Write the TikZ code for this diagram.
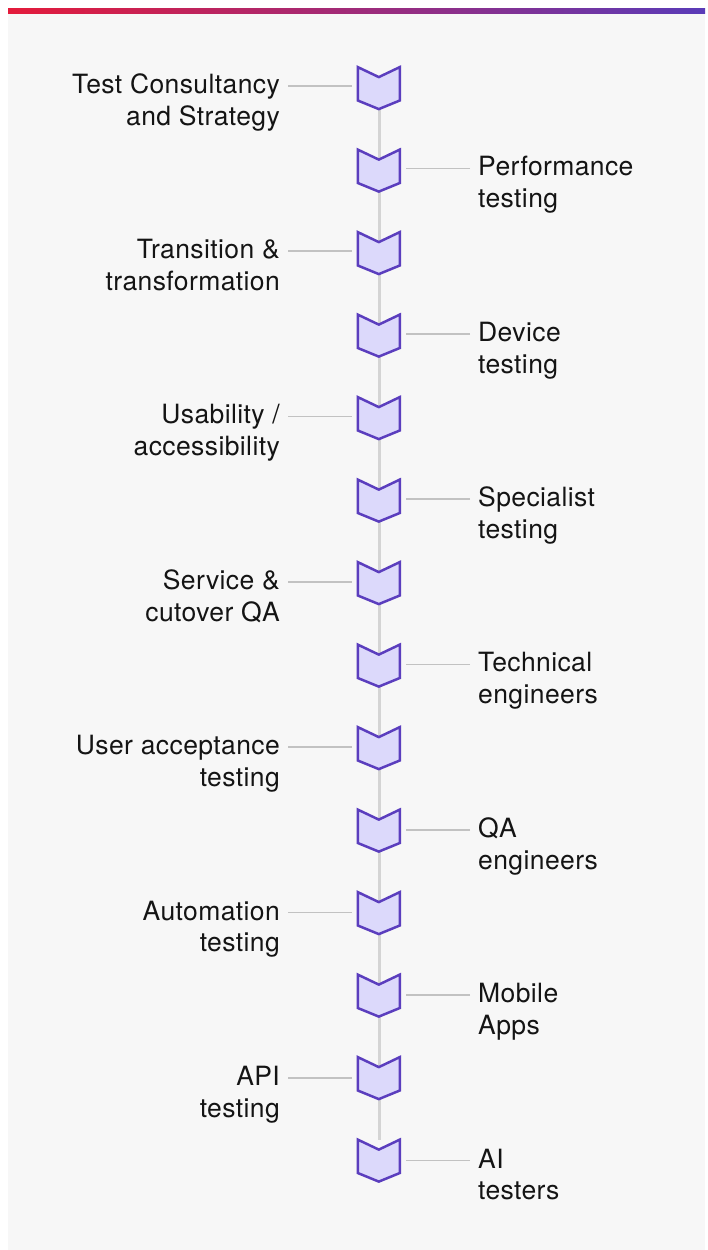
\documentclass[tikz,border=0pt]{standalone}
\usepackage{fontspec}
\setmainfont{TeX Gyre Heros}[LetterSpace=1.5]
\usetikzlibrary{calc}
\definecolor{barred}{HTML}{E41B3B}
\definecolor{barpurple}{HTML}{5A3BB8}
\definecolor{panel}{HTML}{F7F7F7}
\definecolor{chevfill}{HTML}{DCD9FB}
\definecolor{chevline}{HTML}{5B3EBE}
\definecolor{spinegray}{HTML}{D4D4D4}
\definecolor{conngray}{HTML}{C2C2C2}
\definecolor{txt}{HTML}{141414}
\begin{document}
\begin{tikzpicture}[x=1pt,y=-1pt,
  chevnode/.style={inner sep=0pt, minimum width=42pt, minimum height=42pt},
  chevshape/.style={draw=chevline, fill=chevfill, line width=2.5pt, line join=miter},
  lbl/.style={inner sep=0pt, text=txt, font=\fontsize{26.5}{31.8}\selectfont},
  spine/.style={draw=spinegray, line width=3pt},
  conn/.style={draw=conngray, line width=1.4pt}]
\useasboundingbox (0,0) rectangle (707,1250);
\fill[white] (0,0) rectangle (707,1250);
\fill[panel] (8,13) rectangle (705,1250);
\shade[left color=barred, right color=barpurple] (8,8) rectangle (705,13);
% chevron anchor nodes
\foreach \i in {1,...,14}{
  \pgfmathsetmacro\ct{67.3+82.5*(\i-1)}
  \node[chevnode] (c\i) at (379,\ct+21) {};
}
% labels
\foreach \i/\la/\lb in {1/Test Consultancy/and Strategy, 3/Transition \&/transformation, 5/{Usability /}/accessibility, 7/Service \&/cutover QA, 9/User acceptance/testing, 11/Automation/testing, 13/API/testing}{
  \pgfmathsetmacro\tb{93.3+82.67*(\i-1)}
  \node[lbl, anchor=base east] (t\i) at (280,\tb) {\begin{tabular}[t]{@{}r@{}}\la\\\lb\end{tabular}};
  \coordinate (a\i) at ([shift={(8pt,7.5pt)}]t\i.base east);
  \coordinate (b\i) at ([xshift=-6pt]c\i.west);
}
\foreach \i/\la/\lb in {2/Performance/testing, 4/Device/testing, 6/Specialist/testing, 8/Technical/engineers, 10/QA/engineers, 12/Mobile/Apps, 14/AI/testers}{
  \pgfmathsetmacro\tb{93.3+82.67*(\i-1)}
  \node[lbl, anchor=base west] (t\i) at (478,\tb) {\begin{tabular}[t]{@{}l@{}}\la\\\lb\end{tabular}};
  \coordinate (a\i) at ([shift={(-8pt,7.5pt)}]t\i.base west);
  \coordinate (b\i) at ([xshift=6pt]c\i.east);
}
% spine
\draw[spine] (c1.south) -- (c14.north);
% connectors and chevrons
\foreach \i in {1,...,14}{
  \draw[conn] (a\i) -- (b\i |- a\i);
  \draw[chevshape] (c\i.north west) -- ++(21,10) -- ++(21,-10) -- ++(0,33.4) -- ++(-21,8.6) -- ++(-21,-8.6) -- cycle;
}
\end{tikzpicture}
\end{document}
